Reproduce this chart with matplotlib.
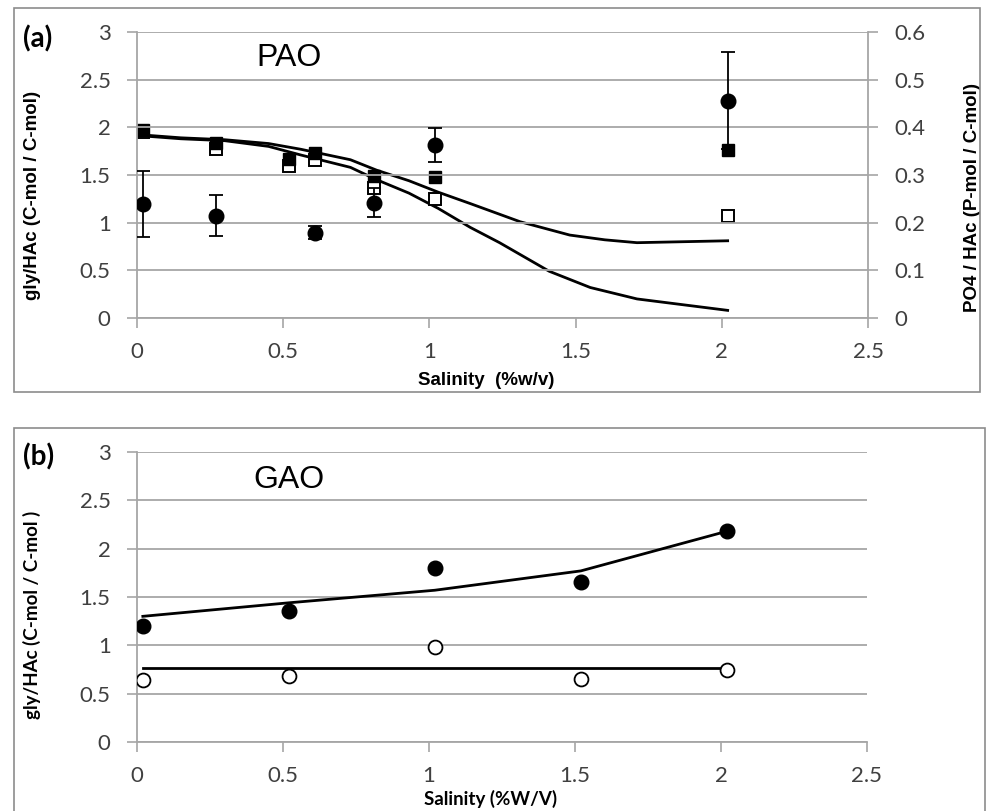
import matplotlib
matplotlib.use("Agg")
import matplotlib.pyplot as plt
from matplotlib.patches import Rectangle

# ---- panel (a) PAO ----
gly_x = [0.02, 0.27, 0.61, 0.81, 1.02, 2.02]
gly_y = [1.20, 1.07, 0.89, 1.21, 1.81, 2.28]
gly_lo = [0.85, 0.86, 0.83, 1.06, 1.64, 1.77]
gly_hi = [1.54, 1.29, 0.965, 1.36, 1.99, 2.79]

po4_x = [0.02, 0.27, 0.52, 0.61, 0.81, 1.02, 2.02]
po4_filled = [0.394, 0.368, 0.334, 0.346, 0.298, 0.296, 0.352]
po4_open = [0.390, 0.354, 0.318, 0.332, 0.272, 0.250, 0.214]

model_up_x = [0.02, 0.15, 0.3, 0.45, 0.56, 0.73, 0.82, 0.93, 1.03, 1.14, 1.31, 1.48, 1.6, 1.71, 2.02]
model_up_y = [0.384, 0.378, 0.374, 0.366, 0.354, 0.332, 0.310, 0.288, 0.264, 0.240, 0.202, 0.174, 0.164, 0.158, 0.162]
model_lo_x = [0.02, 0.15, 0.3, 0.45, 0.56, 0.73, 0.82, 0.93, 1.03, 1.14, 1.24, 1.41, 1.55, 1.71, 2.02]
model_lo_y = [0.382, 0.376, 0.372, 0.360, 0.342, 0.316, 0.290, 0.262, 0.230, 0.190, 0.158, 0.098, 0.064, 0.040, 0.016]

# ---- panel (b) GAO ----
gao_x = [0.02, 0.52, 1.02, 1.52, 2.02]
gao_filled = [1.20, 1.36, 1.80, 1.66, 2.18]
gao_open = [0.64, 0.68, 0.98, 0.65, 0.75]
gao_model1 = [1.30, 1.44, 1.57, 1.77, 2.18]
gao_model2 = [0.77, 0.77, 0.77, 0.77, 0.77]

xticks = [0, 0.5, 1, 1.5, 2, 2.5]
xticklabels = ["0", "0.5", "1", "1.5", "2", "2.5"]
yticks = [0, 0.5, 1, 1.5, 2, 2.5, 3]
yticklabels = ["0", "0.5", "1", "1.5", "2", "2.5", "3"]
y2ticks = [0, 0.1, 0.2, 0.3, 0.4, 0.5, 0.6]
y2ticklabels = ["0", "0.1", "0.2", "0.3", "0.4", "0.5", "0.6"]

W, H = 987, 811
grid_c = "#a6a6a6"
tick_c = "#404040"
tick_font = "Lato"
label_font = "Liberation Sans"

fig = plt.figure(figsize=(W / 100, H / 100), dpi=100)


def fx(px):
    return px / W


def fy(py):
    return 1 - py / H


def style_axis(ax):
    ax.set_xlim(0, 2.5)
    ax.set_ylim(0, 3)
    ax.set_xticks(xticks)
    ax.set_xticklabels(xticklabels, fontsize=16, color=tick_c, family=tick_font)
    ax.set_yticks(yticks)
    ax.set_yticklabels(yticklabels, fontsize=16, color=tick_c, family=tick_font)
    ax.tick_params(axis="both", direction="out", length=7, width=1.2, color=grid_c)
    ax.tick_params(axis="x", pad=10)
    ax.tick_params(axis="y", pad=12)
    ax.yaxis.grid(True, color=grid_c, lw=1.3)
    ax.set_axisbelow(True)
    for s in ["top", "right"]:
        ax.spines[s].set_visible(False)
    for s in ["left", "bottom"]:
        ax.spines[s].set_color(grid_c)
        ax.spines[s].set_linewidth(1.3)


# frames
fig.add_artist(Rectangle((fx(14), fy(392)), fx(966), (392 - 8) / H, fill=False,
                         ec="#8c8c8c", lw=1.2, transform=fig.transFigure))
fig.add_artist(Rectangle((fx(14), fy(815)), fx(971), (815 - 428) / H, fill=False,
                         ec="#8c8c8c", lw=1.2, transform=fig.transFigure))

# ---- (a) ----
axa = fig.add_axes([fx(137), fy(318), fx(868 - 137), (318 - 32) / H])
style_axis(axa)
axa.errorbar(gly_x, gly_y,
             yerr=[[y - l for y, l in zip(gly_y, gly_lo)], [h - y for y, h in zip(gly_y, gly_hi)]],
             fmt="o", color="black", ms=10.5, elinewidth=1.3, capsize=5, capthick=1.3, zorder=4)
axa.set_ylabel("gly/HAc (C-mol / C-mol)", fontsize=13.5, fontweight="bold", family=label_font)
axa.yaxis.set_label_coords(-0.131, 0.43)
axa.set_xlabel("Salinity  (%w/v)", fontsize=13.5, fontweight="bold", family=label_font)
axa.xaxis.set_label_coords(0.478, -0.19)
axa.text(0.52, 2.73, "PAO", fontsize=23, family=label_font, ha="center", va="center")

axb2 = axa.twinx()
axb2.set_ylim(0, 0.6)
axb2.set_yticks(y2ticks)
axb2.set_yticklabels(y2ticklabels, fontsize=16, color=tick_c, family=tick_font)
axb2.tick_params(axis="y", direction="out", length=7, width=1.2, color=grid_c, pad=12)
for s in ["top", "left", "bottom"]:
    axb2.spines[s].set_visible(False)
axb2.spines["right"].set_color(grid_c)
axb2.spines["right"].set_linewidth(1.3)
axb2.plot(model_up_x, model_up_y, color="black", lw=2.0, zorder=2)
axb2.plot(model_lo_x, model_lo_y, color="black", lw=2.0, zorder=2)
axb2.plot(po4_x, po4_open, "s", ms=8.5, mfc="white", mec="black", mew=1.4, zorder=3)
axb2.plot(po4_x, po4_filled, "s", ms=8.5, color="black", zorder=3)
axb2.set_ylabel("PO4 / HAc (P-mol / C-mol)", fontsize=13.5, fontweight="bold", family=label_font)
axb2.yaxis.set_label_coords(1.132, 0.42)

# errorbars of panel (a) sit on top of the twin axis
axa.set_zorder(axb2.get_zorder() + 1)
axa.patch.set_visible(False)

fig.text(fx(38), fy(39), "(a)", fontsize=20, fontweight="bold", family=tick_font,
         ha="center", va="center")

# ---- (b) ----
axb = fig.add_axes([fx(137), fy(742), fx(867 - 137), (742 - 452) / H])
style_axis(axb)
axb.plot(gao_x, gao_model1, color="black", lw=2.0, zorder=2)
axb.plot(gao_x, gao_model2, color="black", lw=2.0, zorder=2)
axb.plot(gao_x, gao_filled, "o", ms=10.5, color="black", zorder=3)
axb.plot(gao_x, gao_open, "o", ms=10, mfc="white", mec="black", mew=1.3, zorder=3)
axb.set_ylabel("gly/HAc (C-mol / C-mol )", fontsize=13.5, fontweight="bold", family=tick_font)
axb.yaxis.set_label_coords(-0.131, 0.438)
axb.set_xlabel("Salinity (%W/V)", fontsize=13.5, fontweight="bold", family=tick_font)
axb.xaxis.set_label_coords(0.484, -0.165)
axb.text(0.52, 2.71, "GAO", fontsize=23, family=label_font, ha="center", va="center")

fig.text(fx(39), fy(457), "(b)", fontsize=20, fontweight="bold", family=tick_font,
         ha="center", va="center")

fig.savefig("out.png", dpi=100)
